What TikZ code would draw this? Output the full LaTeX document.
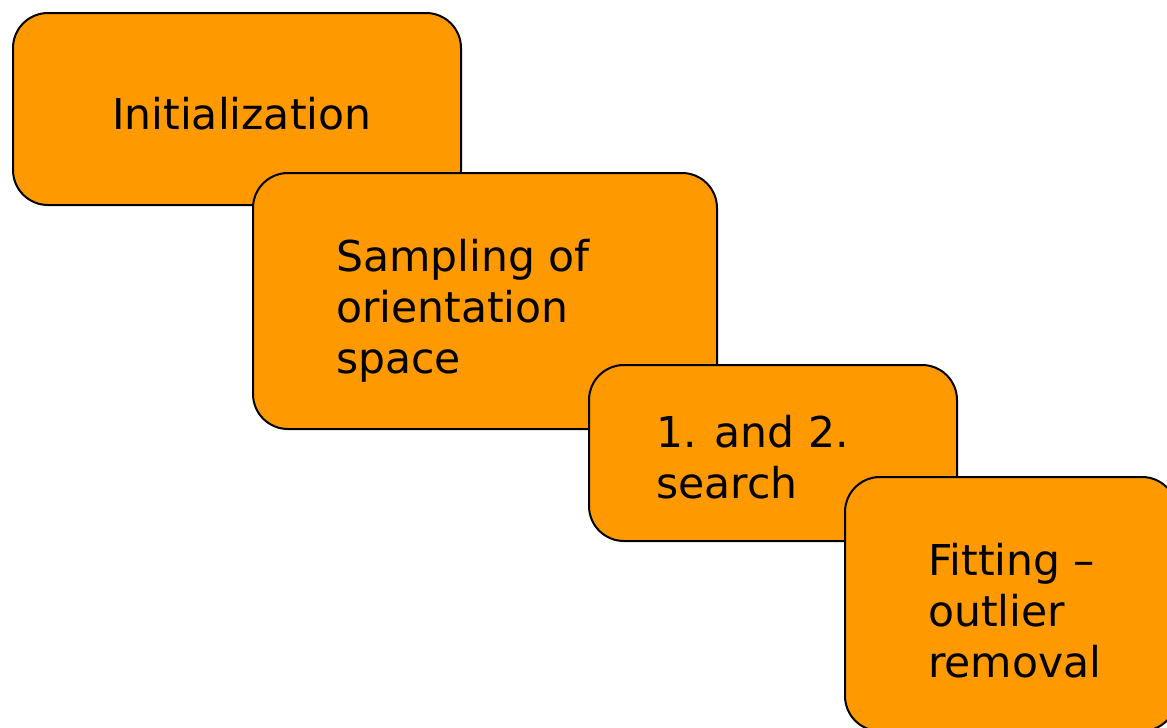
\documentclass[tikz,border=0pt]{standalone}
\usepackage{fontspec}
\setmainfont{DejaVu Sans}
\definecolor{boxorange}{HTML}{FF9900}
\begin{document}
\begin{tikzpicture}[x=1pt,y=-1pt,
  stepbox/.style={draw=black, line width=2pt, fill=boxorange, rounded corners=35pt, inner sep=0pt, anchor=north west},
  steptext/.style={anchor=base west, inner sep=0pt, align=left, font=\fontsize{42.5}{51}\selectfont, text=black}]
\useasboundingbox (0,0) rectangle (1167,728);
\clip (0,0) rectangle (1167,728);
\node[stepbox, minimum width=448pt, minimum height=192pt] (b1) at (12,12) {};
\node[steptext] (t1) at (112,129) {Initialization};
\node[stepbox, minimum width=464pt, minimum height=256pt] (b2) at (252,172) {};
\node[steptext] (t2) at (336,373) {Sampling of\\orientation\\space};
\node[stepbox, minimum width=368pt, minimum height=176pt] (b3) at (588,364) {};
\node[steptext] (t3) at (656,498) {1. and 2.\\search};
\node[stepbox, minimum width=332pt, minimum height=254pt] (b4) at (844,476) {};
\node[steptext] (t4) at (928,677) {Fitting –\\outlier\\removal};
\end{tikzpicture}
\end{document}
